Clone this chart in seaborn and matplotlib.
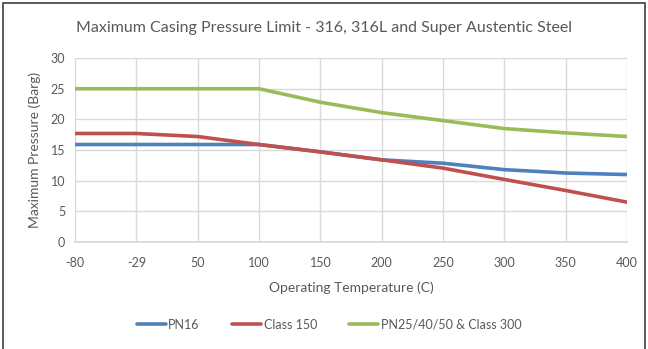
import matplotlib
matplotlib.use("Agg")
import matplotlib.pyplot as plt
import pandas as pd
import seaborn as sns
from matplotlib.patches import Rectangle

# Chart data
temperatures = ["-80", "-29", "50", "100", "150", "200", "250", "300", "350", "400"]
pn16 = [15.9, 15.9, 15.9, 15.9, 14.7, 13.4, 12.85, 11.8, 11.25, 11.0]
class150 = [17.7, 17.7, 17.2, 15.9, 14.7, 13.4, 12.05, 10.2, 8.4, 6.5]
pn25_class300 = [25.0, 25.0, 25.0, 25.0, 22.8, 21.1, 19.8, 18.5, 17.8, 17.2]

series_names = ["PN16", "Class 150", "PN25/40/50 & Class 300"]
colors = ["#4F81BD", "#C0504D", "#9BBB59"]

rows = []
for name, values in zip(series_names, [pn16, class150, pn25_class300]):
    for i, v in enumerate(values):
        rows.append({"pos": i, "Temperature": temperatures[i], "Pressure": v, "Series": name})
df = pd.DataFrame(rows)

sns.set_theme(style="white")
plt.rcParams["font.family"] = ["Lato", "DejaVu Sans"]
text_color = "#595959"

fig = plt.figure(figsize=(6.48, 3.49), dpi=100)
ax = fig.add_axes([0.1157, 0.3066, 0.852, 0.527])

sns.lineplot(
    data=df,
    x="pos",
    y="Pressure",
    hue="Series",
    hue_order=series_names,
    palette=colors,
    linewidth=2.6,
    ax=ax,
    legend=False,
)

ax.set_xlim(0, len(temperatures) - 1)
ax.set_ylim(0, 30)
ax.set_xticks(range(len(temperatures)))
ax.set_xticklabels(temperatures)
ax.set_yticks(range(0, 31, 5))
ax.grid(True, color="#D9D9D9", linewidth=1)
ax.set_axisbelow(True)
for side in ["top", "right", "left"]:
    ax.spines[side].set_visible(False)
ax.spines["bottom"].set_color("#D9D9D9")
ax.tick_params(axis="x", length=0, labelsize=9, colors=text_color, pad=11)
ax.tick_params(axis="y", length=0, labelsize=9, colors=text_color, pad=7)

ax.set_xlabel("Operating Temperature (C)", fontsize=10, color=text_color, labelpad=9)
ax.set_ylabel("Maximum Pressure (Barg)", fontsize=10, color=text_color, labelpad=7)
fig.text(0.5, 0.92, "Maximum Casing Pressure Limit - 316, 316L and Super Austentic Steel",
         ha="center", va="center", fontsize=11.5, color=text_color)

handles = [plt.Line2D([0], [0], color=c, linewidth=2.6) for c in colors]
fig.legend(handles, series_names, loc="center", bbox_to_anchor=(0.508, 0.07), ncol=3,
           frameon=False, fontsize=9, labelcolor=text_color, handlelength=2.3,
           handletextpad=0.2, columnspacing=2.6)

# Border around the chart area
fig.patches.append(Rectangle((0.004, -0.01), 0.992, 1.0, transform=fig.transFigure,
                             fill=False, edgecolor="#404040", linewidth=1.2))

fig.savefig("out.png", dpi=100)
